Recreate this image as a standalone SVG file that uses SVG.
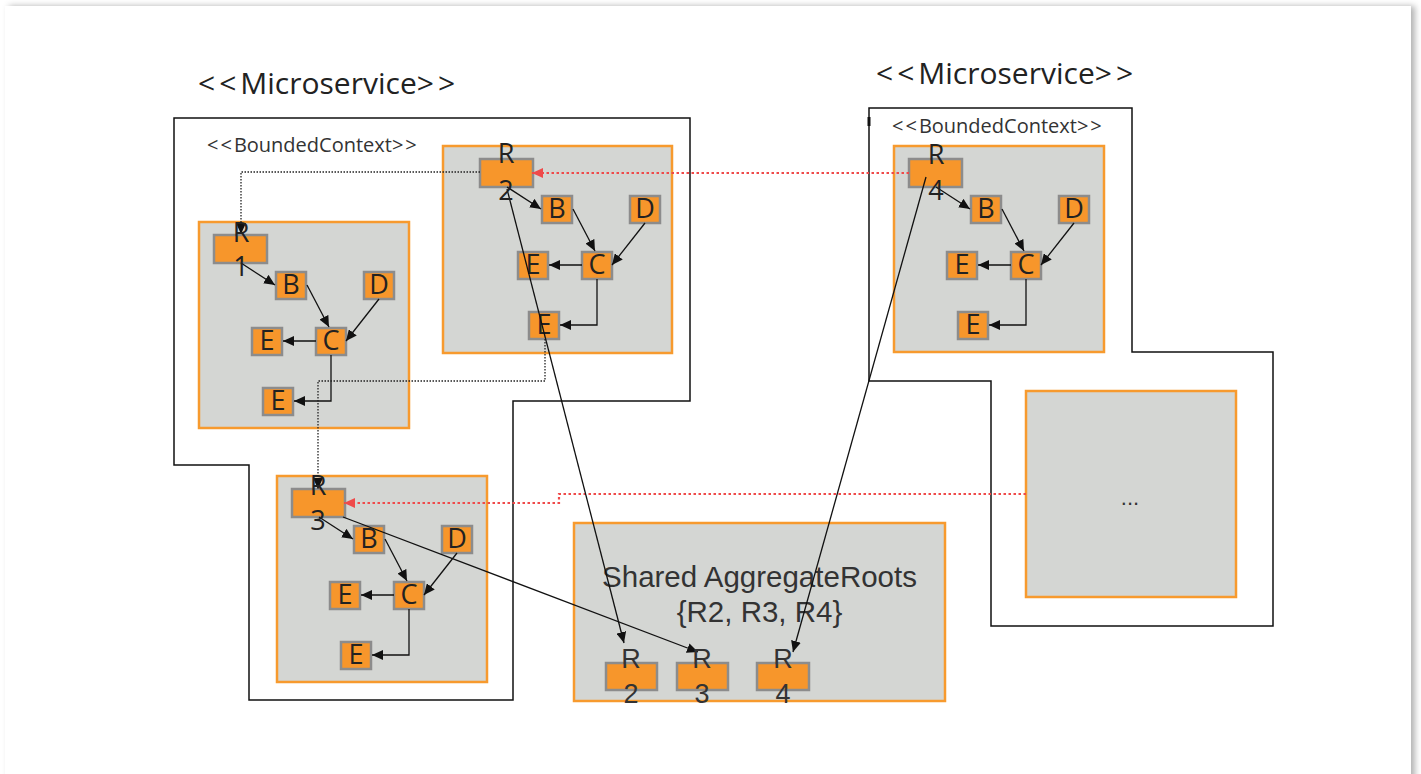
<svg xmlns="http://www.w3.org/2000/svg" width="1421" height="774" viewBox="0 0 1421 774">
  <style>
    .title { font-family: "Open Sans", "Noto Sans", sans-serif; font-size: 30px; fill: #222; }
    .bc-label { font-family: "Open Sans", "Noto Sans", sans-serif; font-size: 20px; fill: #333; }
    .br { letter-spacing: 4px; }
    .br-s { letter-spacing: 2px; }
    .ms { fill: none; stroke: #111; stroke-width: 1.5; }
    .ctx { fill: #d4d6d3; stroke: #f79a2e; stroke-width: 2.5; }
    .ent { fill: #f7962b; stroke: #8c8c8c; stroke-width: 2.5; }
    .lt { font-family: "Open Sans", "Noto Sans", sans-serif; font-size: 27px; fill: #222; text-anchor: middle; }
    .lt2 { font-family: "Liberation Sans", Arial, sans-serif; font-size: 27px; fill: #333; text-anchor: middle; }
    .big { font-family: "Liberation Sans", Arial, sans-serif; font-size: 29.5px; fill: #333; text-anchor: middle; }
    .edge { fill: none; stroke: #111; stroke-width: 1.3; }
    .dot { fill: none; stroke: #222; stroke-width: 1.3; stroke-dasharray: 1.5 1.5; }
    .red { fill: none; stroke: #ef4a4a; stroke-width: 2.2; stroke-dasharray: 2.5 2.5; }
  </style>
  <defs>
    <marker id="ah" markerUnits="userSpaceOnUse" markerWidth="12" markerHeight="10" refX="11" refY="5" orient="auto">
      <path d="M0,0 L11,5 L0,10 Z" fill="#111"/>
    </marker>
    <marker id="ahr" markerUnits="userSpaceOnUse" markerWidth="12" markerHeight="10" refX="11" refY="5" orient="auto">
      <path d="M0,0 L11,5 L0,10 Z" fill="#ef4a4a"/>
    </marker>
    <filter id="sh" x="-2%" y="-2%" width="104%" height="104%">
      <feDropShadow dx="4" dy="0" stdDeviation="3" flood-color="#000" flood-opacity="0.3"/>
    </filter>
    <!-- internal aggregate graph: R -> B -> C, D -> C, C -> E, C -> E -->
    <g id="agg">
      <rect class="ent" x="15" y="13" width="53" height="28"/>
      <rect class="ent" x="77" y="50" width="30" height="27"/>
      <rect class="ent" x="165" y="50" width="30" height="27"/>
      <rect class="ent" x="117" y="106" width="30" height="27"/>
      <rect class="ent" x="53" y="106" width="30" height="27"/>
      <rect class="ent" x="64" y="166" width="30" height="27"/>
      <text class="lt" x="92" y="72">B</text>
      <text class="lt" x="180" y="72">D</text>
      <text class="lt" x="132" y="128">C</text>
      <text class="lt" x="68" y="128">E</text>
      <text class="lt" x="79" y="188">E</text>
      <path class="edge" d="M42,41 L76,63" marker-end="url(#ah)"/>
      <path class="edge" d="M108,63 L130,105" marker-end="url(#ah)"/>
      <path class="edge" d="M180,77 L147,119" marker-end="url(#ah)"/>
      <path class="edge" d="M117,119 H84" marker-end="url(#ah)"/>
      <path class="edge" d="M132,133 V179 H95" marker-end="url(#ah)"/>
    </g>
  </defs>

  <!-- page card -->
  <rect x="5" y="6" width="1406" height="820" fill="#fff" filter="url(#sh)"/>

  <!-- left microservice -->
  <g id="ms-left">
    <path class="ms" d="M174,118 H690 V401 H513 V700 H249 V465 H174 Z"/>
    <text class="title" x="198" y="94"><tspan class="br">&lt;&lt;</tspan>Microservice<tspan class="br">&gt;&gt;</tspan></text>
    <text class="bc-label" x="207" y="152"><tspan class="br-s">&lt;&lt;</tspan>BoundedContext<tspan class="br-s">&gt;&gt;</tspan></text>
  </g>

  <!-- right microservice -->
  <g id="ms-right">
    <path class="ms" d="M869,108 H1132 V352 H1273 V626 H991 V381 H869 Z"/>
    <line x1="869" y1="117" x2="869" y2="126" stroke="#111" stroke-width="3"/>
    <text class="title" x="876" y="84"><tspan class="br">&lt;&lt;</tspan>Microservice<tspan class="br">&gt;&gt;</tspan></text>
    <text class="bc-label" x="892" y="133"><tspan class="br-s">&lt;&lt;</tspan>BoundedContext<tspan class="br-s">&gt;&gt;</tspan></text>
  </g>

  <!-- aggregate R1 -->
  <g id="agg-r1">
    <rect class="ctx" x="199" y="222" width="210" height="206"/>
    <use href="#agg" transform="translate(199,222)"/>
  </g>

  <!-- aggregate R2 -->
  <g id="agg-r2">
    <rect class="ctx" x="443" y="146" width="229" height="207"/>
    <use href="#agg" transform="translate(465,146)"/>
  </g>

  <!-- aggregate R3 -->
  <g id="agg-r3">
    <rect class="ctx" x="277" y="476" width="210" height="206"/>
    <use href="#agg" transform="translate(277,476)"/>
  </g>

  <!-- aggregate R4 -->
  <g id="agg-r4">
    <rect class="ctx" x="894" y="146" width="210" height="206"/>
    <use href="#agg" transform="translate(894,146)"/>
  </g>

  <!-- further aggregates -->
  <g id="agg-more">
    <rect class="ctx" x="1026" y="391" width="210" height="206"/>
    <text class="lt2" x="1130" y="505" style="font-size:22px">...</text>
  </g>

  <!-- shared aggregate roots -->
  <g id="shared">
    <rect class="ctx" x="574" y="523" width="371" height="178"/>
    <text class="big" x="759.5" y="587">Shared AggregateRoots</text>
    <text class="big" x="759.5" y="622">{R2, R3, R4}</text>
    <rect class="ent" x="606" y="663" width="51" height="27"/>
    <rect class="ent" x="677" y="663" width="51" height="27"/>
    <rect class="ent" x="757" y="663" width="52" height="27"/>
  </g>

  <!-- connectors -->
  <g id="connectors">
    <path class="dot" d="M480,172 H241 V234" marker-end="url(#ah)"/>
    <path class="dot" d="M545,339 V381 H318 V489" marker-end="url(#ah)"/>
    <path class="red" d="M909,173 H532" marker-end="url(#ahr)"/>
    <path class="red" d="M1026,494 H559 V503 H344" marker-end="url(#ahr)"/>
    <path class="edge" d="M507,189 L624,643" marker-end="url(#ah)"/>
    <path class="edge" d="M343,517 L698,652" marker-end="url(#ah)"/>
    <path class="edge" d="M926,177 L793,652" marker-end="url(#ah)"/>
  </g>

  <!-- root labels -->
  <g id="root-labels">
    <text class="lt" x="241" y="242">R</text>
    <text class="lt" x="241" y="276">1</text>
    <text class="lt" x="506" y="163">R</text>
    <text class="lt" x="506" y="200">2</text>
    <text class="lt" x="318" y="495">R</text>
    <text class="lt" x="318" y="530">3</text>
    <text class="lt" x="936" y="164">R</text>
    <text class="lt" x="936" y="200">4</text>
    <text class="lt2" x="631" y="668">R</text>
    <text class="lt2" x="631" y="703">2</text>
    <text class="lt2" x="702" y="668">R</text>
    <text class="lt2" x="702" y="703">3</text>
    <text class="lt2" x="783" y="668">R</text>
    <text class="lt2" x="783" y="703">4</text>
  </g>
</svg>
